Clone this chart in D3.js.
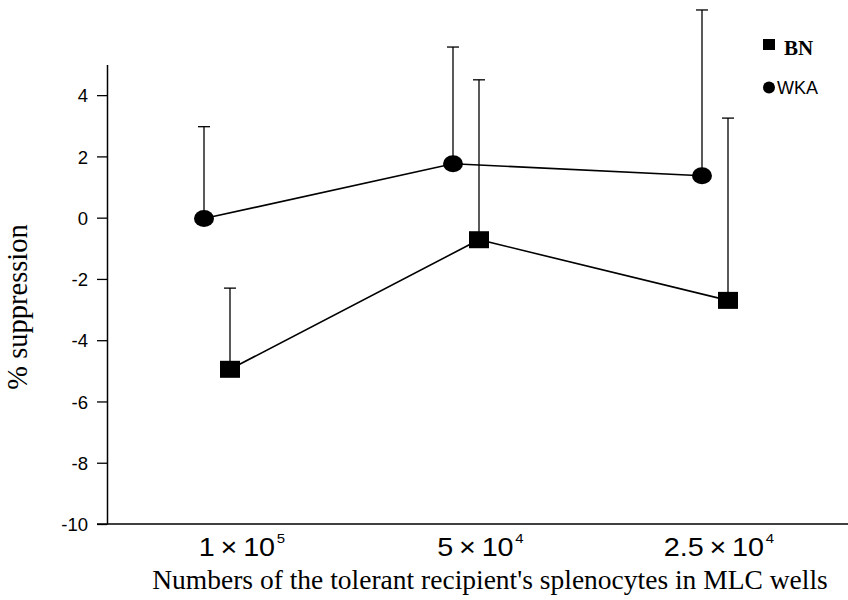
<!DOCTYPE html>
<html>
<head>
<meta charset="utf-8">
<script src="https://cdn.jsdelivr.net/npm/d3@7"></script>
<style>
  body { margin: 0; background: #fff; }
  svg { display: block; }
</style>
</head>
<body>
<svg id="chart" width="848" height="600"></svg>
<script>
// categories (cell numbers) and tick label pieces
const categories = ["1e5", "5e4", "2.5e4"];
const tickBase = ["1\u2009\u00d7\u200910", "5\u2009\u00d7\u200910", "2.5\u2009\u00d7\u200910"];
const tickExp = ["5", "4", "4"];

// % suppression; errors are drawn upward only
const bnValues = [-4.95, -0.72, -2.7];
const bnErrTop = [-2.3, 4.5, 3.25];
const wkaValues = [-0.03, 1.76, 1.37];
const wkaErrTop = [2.97, 5.57, 6.78];

const yTicks = [-10, -8, -6, -4, -2, 0, 2, 4];

const svg = d3.select("#chart");

const y = d3.scaleLinear().domain([-10, 5]).range([524, 64.5]);
const x = d3.scalePoint().domain(categories).range([217, 715]);
const xLabel = d3.scalePoint().domain(categories).range([242, 719]);

const axisX = 107;
const sans = "Liberation Sans, Arial, sans-serif",
      serif = "Liberation Serif, Times New Roman, serif";

// y axis
const yAxis = svg.append("g")
  .attr("transform", `translate(${axisX},0)`)
  .call(d3.axisLeft(y).tickValues(yTicks).tickSize(10).tickSizeOuter(0).tickFormat(d => String(d)));
yAxis.select(".domain").attr("stroke", "#000").attr("stroke-width", 1.5);
yAxis.selectAll(".tick line").attr("stroke", "#000").attr("stroke-width", 1.3);
yAxis.selectAll(".tick text")
  .attr("x", -19)
  .attr("dy", "0.36em")
  .attr("font-family", sans)
  .attr("font-size", 18.5)
  .attr("fill", "#000");

// x axis baseline runs out to the page edge
svg.append("line")
  .attr("x1", 97).attr("x2", 848)
  .attr("y1", y(-10)).attr("y2", y(-10))
  .attr("stroke", "#000").attr("stroke-width", 1.5);

// x tick labels with superscript exponent (slightly wide type in the original)
const xt = svg.append("g").selectAll("text")
  .data(categories)
  .join("text")
  .attr("transform", d => `translate(${xLabel(d)},556) scale(1.15,1)`)
  .attr("text-anchor", "middle")
  .attr("font-family", sans)
  .attr("font-size", 25)
  .attr("fill", "#000");
xt.append("tspan").text((d, i) => tickBase[i]);
xt.append("tspan")
  .attr("dx", 1.5)
  .attr("dy", -13)
  .attr("font-size", 13)
  .text((d, i) => tickExp[i]);

// axis titles
svg.append("text")
  .attr("x", 490).attr("y", 589)
  .attr("text-anchor", "middle")
  .attr("font-family", serif)
  .attr("font-size", 27.5)
  .attr("fill", "#000")
  .text("Numbers of the tolerant recipient's splenocytes in MLC wells");

svg.append("text")
  .attr("transform", "translate(27,307) rotate(-90)")
  .attr("text-anchor", "middle")
  .attr("font-family", serif)
  .attr("font-size", 28.5)
  .attr("fill", "#000")
  .text("% suppression");

// series
const series = [
  {name: "WKA", values: wkaValues, errTop: wkaErrTop, dx: -13, shape: "circle"},
  {name: "BN", values: bnValues, errTop: bnErrTop, dx: 13, shape: "square"}
];

const line = d3.line();

series.forEach(s => {
  const pts = categories.map((c, i) => ({cx: x(c) + s.dx, v: s.values[i], top: s.errTop[i]}));
  const g = svg.append("g");

  // error bars (upward)
  g.selectAll("line.err")
    .data(pts)
    .join("line")
    .attr("class", "err")
    .attr("x1", d => d.cx).attr("x2", d => d.cx)
    .attr("y1", d => y(d.v)).attr("y2", d => y(d.top))
    .attr("stroke", "#000").attr("stroke-width", 1.3);
  g.selectAll("line.cap")
    .data(pts)
    .join("line")
    .attr("class", "cap")
    .attr("x1", d => d.cx - 6).attr("x2", d => d.cx + 6)
    .attr("y1", d => y(d.top)).attr("y2", d => y(d.top))
    .attr("stroke", "#000").attr("stroke-width", 1.3);

  g.append("path")
    .attr("d", line(pts.map(d => [d.cx, y(d.v)])))
    .attr("fill", "none")
    .attr("stroke", "#000")
    .attr("stroke-width", 1.6);

  if (s.shape === "circle") {
    g.selectAll("ellipse")
      .data(pts)
      .join("ellipse")
      .attr("cx", d => d.cx).attr("cy", d => y(d.v))
      .attr("rx", 10).attr("ry", 8.5)
      .attr("fill", "#000");
  } else {
    g.selectAll("rect")
      .data(pts)
      .join("rect")
      .attr("x", d => d.cx - 10).attr("y", d => y(d.v) - 8.5)
      .attr("width", 20).attr("height", 17)
      .attr("fill", "#000");
  }
});

// legend
const lg = svg.append("g");
lg.append("rect")
  .attr("x", 763).attr("y", 39)
  .attr("width", 12).attr("height", 11)
  .attr("fill", "#000");
lg.append("text")
  .attr("x", 784).attr("y", 55)
  .attr("font-family", serif)
  .attr("font-weight", "bold")
  .attr("font-size", 21)
  .attr("fill", "#000")
  .text("BN");
lg.append("ellipse")
  .attr("cx", 769).attr("cy", 87.5)
  .attr("rx", 6).attr("ry", 6)
  .attr("fill", "#000");
lg.append("text")
  .attr("x", 777).attr("y", 94)
  .attr("font-family", sans)
  .attr("font-size", 18)
  .attr("fill", "#000")
  .text("WKA");
</script>
</body>
</html>
